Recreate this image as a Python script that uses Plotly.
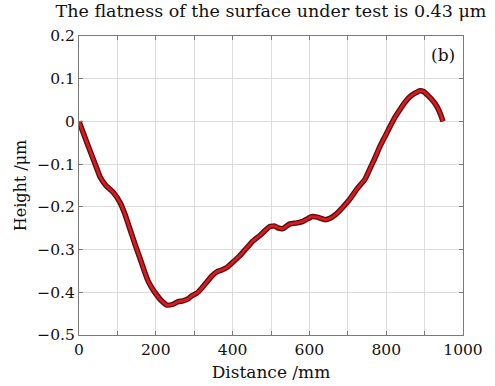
import plotly.graph_objects as go

distance_mm = [0, 20, 40, 55, 70, 76, 90, 107, 120, 133, 146, 159, 170, 180, 192, 203, 215, 229, 245, 258, 271, 285, 294, 307, 320, 333, 346, 359, 372, 385, 400, 419, 435, 453, 471, 485, 497, 510, 518, 531, 549, 565, 583, 595, 606, 620, 641, 655, 667, 688, 706, 724, 745, 758, 771, 784, 797, 810, 823, 836, 849, 862, 875, 888, 897, 906, 920, 932, 940, 948]
height_um = [0, -0.048, -0.095, -0.13, -0.15, -0.155, -0.167, -0.19, -0.218, -0.253, -0.288, -0.321, -0.35, -0.374, -0.393, -0.407, -0.42, -0.43, -0.428, -0.422, -0.42, -0.415, -0.408, -0.402, -0.39, -0.376, -0.362, -0.352, -0.348, -0.342, -0.33, -0.314, -0.298, -0.28, -0.267, -0.255, -0.246, -0.245, -0.249, -0.251, -0.24, -0.238, -0.234, -0.228, -0.223, -0.224, -0.23, -0.226, -0.219, -0.2, -0.181, -0.158, -0.135, -0.11, -0.085, -0.058, -0.035, -0.012, 0.01, 0.028, 0.045, 0.058, 0.066, 0.072, 0.07, 0.063, 0.05, 0.035, 0.02, 0.0]

x_ticks = [0, 200, 400, 600, 800, 1000]
y_ticks = [0.2, 0.1, 0, -0.1, -0.2, -0.3, -0.4, -0.5]
y_tick_labels = ["0.2", "0.1", "0", "\u22120.1", "\u22120.2", "\u22120.3", "\u22120.4", "\u22120.5"]

font_family = "DejaVu Serif"

fig = go.Figure()
fig.add_trace(go.Scatter(x=distance_mm, y=height_um, mode="lines",
                         line=dict(color="#5e0d0f", width=5.5, shape="spline", smoothing=0.4),
                         hoverinfo="skip", showlegend=False))
fig.add_trace(go.Scatter(x=distance_mm, y=height_um, mode="lines",
                         line=dict(color="#d41c22", width=2.8, shape="spline", smoothing=0.4),
                         showlegend=False))

axis_common = dict(showline=True, linecolor="#7a7a7a", linewidth=1, mirror="ticks",
                   ticks="inside", ticklen=4, tickcolor="#7a7a7a",
                   showgrid=True, gridcolor="#dcdcdc", gridwidth=1, zeroline=False,
                   automargin=False,
                   tickfont=dict(family=font_family, size=15.5, color="#111"))

fig.update_xaxes(range=[0, 1000], tickvals=x_ticks, ticktext=[str(v) for v in x_ticks],
                 minor=dict(dtick=100, tick0=0, showgrid=True, gridcolor="#dcdcdc",
                            ticks="inside", ticklen=4, tickcolor="#7a7a7a"),
                 title=dict(text="Distance /mm", font=dict(family=font_family, size=17, color="#111"), standoff=8),
                 **axis_common)
fig.update_yaxes(range=[-0.5, 0.2], tickvals=y_ticks, ticktext=y_tick_labels,
                 title=dict(text="Height /\u03bcm", font=dict(family=font_family, size=16, color="#111"), standoff=6),
                 **axis_common)

fig.update_layout(
    width=495, height=386,
    margin=dict(l=79, r=32, t=36, b=51),
    paper_bgcolor="white", plot_bgcolor="white",
    title=dict(text="The flatness of the surface under test is 0.43 \u03bcm",
               x=0.5, xref="paper", y=0.972, yanchor="middle", xanchor="center",
               font=dict(family=font_family, size=17.5, color="#111")),
    annotations=[dict(text="(b)", x=0.985, y=0.975, xref="paper", yref="paper",
                      xanchor="right", yanchor="top", showarrow=False,
                      font=dict(family=font_family, size=17, color="#111"))],
)

fig.write_html("out.html")
